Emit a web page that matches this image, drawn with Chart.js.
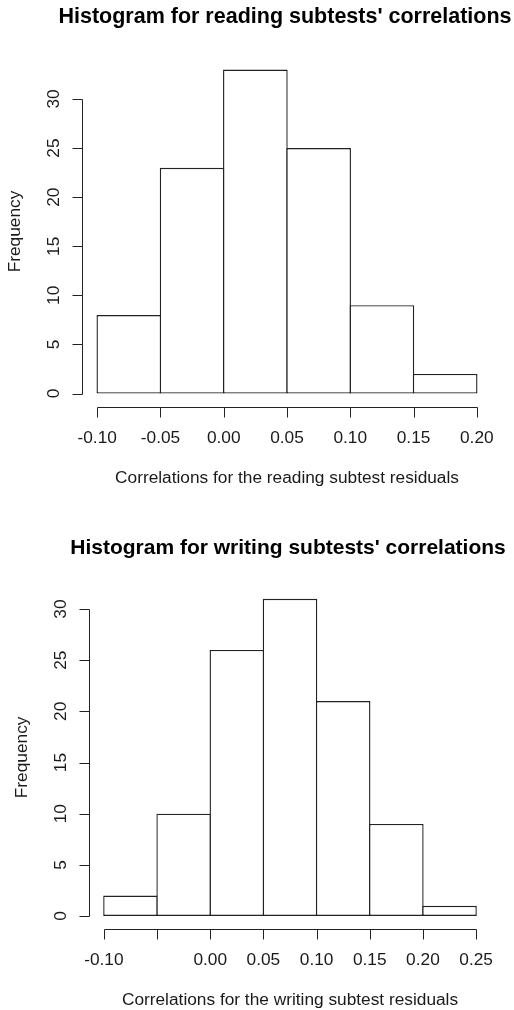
<!DOCTYPE html>
<html>
<head>
<meta charset="utf-8">
<script src="https://cdn.jsdelivr.net/npm/chart.js@4.4.1/dist/chart.umd.min.js"></script>
<style>
  body { margin: 0; background: #fff; }
  .wrap { position: absolute; left: 0; width: 514px; height: 505px; }
</style>
</head>
<body>
<div class="wrap" style="top:0"><canvas id="readingChart" width="514" height="505"></canvas></div>
<div class="wrap" style="top:505px"><canvas id="writingChart" width="514" height="505"></canvas></div>
<script>
// 読み取った値 (R の hist 出力)
const readingMids = [-0.075, -0.025, 0.025, 0.075, 0.125, 0.175];
const readingCounts = [8, 23, 33, 25, 9, 2];
const readingXTicks = [-0.10, -0.05, 0.00, 0.05, 0.10, 0.15, 0.20];
const readingXLabels = ['-0.10', '-0.05', '0.00', '0.05', '0.10', '0.15', '0.20'];

const writingMids = [-0.075, -0.025, 0.025, 0.075, 0.125, 0.175, 0.225];
const writingCounts = [2, 10, 26, 31, 21, 9, 1];
const writingXTicks = [-0.10, -0.05, 0.00, 0.05, 0.10, 0.15, 0.20, 0.25];
const writingXLabels = ['-0.10', '', '0.00', '0.05', '0.10', '0.15', '0.20', '0.25'];

const yTicks = [0, 5, 10, 15, 20, 25, 30];
const yLabels = ['0', '5', '10', '15', '20', '25', '30'];

const FONT = '"Liberation Sans", Arial, sans-serif';
const INK = '#222';
const BAR_LINE = 1.4;

// R風の軸とタイトル (プロット領域から離して描く)
const rAxes = {
    id: 'rAxes',
    afterDraw(chart, args, opts) {
        const { ctx, chartArea: a } = chart;
        const x = chart.scales.x, y = chart.scales.y;
        const tick = 10;
        const cx = (a.left + a.right) / 2;
        ctx.save();
        ctx.strokeStyle = INK;
        ctx.lineWidth = 1;
        ctx.textAlign = 'center';
        ctx.textBaseline = 'middle';

        // タイトル
        ctx.font = 'bold ' + opts.titleSize + 'px ' + FONT;
        ctx.fillStyle = '#000';
        ctx.fillText(opts.title, cx - 2, opts.titleY);
        ctx.fillStyle = '#1a1a1a';

        // y軸
        const ax = Math.round(a.left) + 0.5;
        const y0 = Math.round(y.getPixelForValue(opts.yTicks[0])) + 0.5;
        const y1 = Math.round(y.getPixelForValue(opts.yTicks[opts.yTicks.length - 1])) + 0.5;
        ctx.beginPath();
        ctx.moveTo(ax, y0);
        ctx.lineTo(ax, y1);
        opts.yTicks.forEach(v => {
            const py = Math.round(y.getPixelForValue(v)) + 0.5;
            ctx.moveTo(ax - tick, py);
            ctx.lineTo(ax, py);
        });
        ctx.stroke();
        ctx.font = '17.3px ' + FONT;
        opts.yTicks.forEach((v, i) => {
            ctx.save();
            ctx.translate(a.left - 28, y.getPixelForValue(v));
            ctx.rotate(-Math.PI / 2);
            ctx.fillText(opts.yLabels[i], 0, 0);
            ctx.restore();
        });

        // x軸
        const by = Math.round(a.bottom) + 0.5;
        const x0 = Math.round(x.getPixelForValue(opts.xTicks[0])) + 0.5;
        const x1 = Math.round(x.getPixelForValue(opts.xTicks[opts.xTicks.length - 1])) + 0.5;
        ctx.beginPath();
        ctx.moveTo(x0, by);
        ctx.lineTo(x1, by);
        opts.xTicks.forEach(v => {
            const px = Math.round(x.getPixelForValue(v)) + 0.5;
            ctx.moveTo(px, by);
            ctx.lineTo(px, by + tick);
        });
        ctx.stroke();
        opts.xTicks.forEach((v, i) => {
            ctx.fillText(opts.xLabels[i], x.getPixelForValue(v), a.bottom + 32);
        });

        // 軸タイトル
        ctx.fillText(opts.xTitle, cx, a.bottom + 72);
        ctx.save();
        ctx.translate(a.left - 67, (a.top + a.bottom) / 2);
        ctx.rotate(-Math.PI / 2);
        ctx.fillText('Frequency', 0, 0);
        ctx.restore();
        ctx.restore();
    }
};

function makeHist(id, cfg) {
    return new Chart(document.getElementById(id), {
        type: 'bar',
        data: {
            datasets: [{
                data: cfg.mids.map((m, i) => ({ x: m, y: cfg.counts[i] })),
                backgroundColor: '#fff',
                borderColor: INK,
                borderWidth: BAR_LINE,
                borderSkipped: false,
                // 棒を線幅ぶん重ねて隣の辺を1本にする
                barPercentage: cfg.barPct,
                categoryPercentage: 1
            }]
        },
        options: {
            responsive: false,
            animation: false,
            layout: { padding: cfg.padding },
            scales: {
                x: { type: 'linear', display: false, offset: false, min: cfg.xMin, max: cfg.xMax },
                y: { type: 'linear', display: false, min: cfg.yMin, max: cfg.yMax }
            },
            plugins: {
                legend: { display: false },
                tooltip: { enabled: false },
                title: { display: false },
                rAxes: {
                    title: cfg.title,
                    titleY: cfg.titleY,
                    titleSize: cfg.titleSize,
                    xTicks: cfg.xTicks,
                    xLabels: cfg.xLabels,
                    yTicks: yTicks,
                    yLabels: yLabels,
                    xTitle: cfg.xTitle
                }
            }
        },
        plugins: [rAxes]
    });
}

makeHist('readingChart', {
    mids: readingMids,
    counts: readingCounts,
    xTicks: readingXTicks,
    xLabels: readingXLabels,
    xMin: -0.112, xMax: 0.212,
    yMin: -1.32, yMax: 34.32,
    barPct: 1.022,
    title: "Histogram for reading subtests' correlations",
    titleY: 17,
    titleSize: 21.5,
    xTitle: 'Correlations for the reading subtest residuals',
    padding: { left: 82, right: 22, top: 56.6, bottom: 98.5 }
});

makeHist('writingChart', {
    mids: writingMids,
    counts: writingCounts,
    xTicks: writingXTicks,
    xLabels: writingXLabels,
    xMin: -0.114, xMax: 0.264,
    yMin: -1.24, yMax: 32.24,
    barPct: 1.026,
    title: "Histogram for writing subtests' correlations",
    titleY: 43,
    titleSize: 21,
    xTitle: 'Correlations for the writing subtest residuals',
    padding: { left: 89, right: 23, top: 81.1, bottom: 81.3 }
});
</script>
</body>
</html>
